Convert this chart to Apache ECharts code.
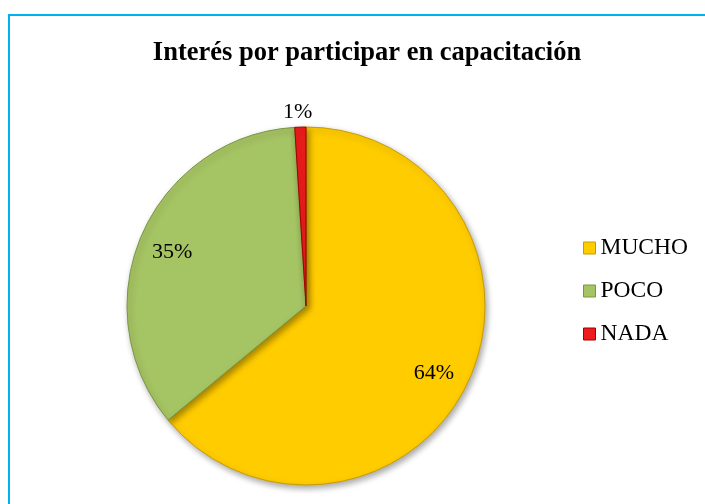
<!DOCTYPE html>
<html>
<head>
<meta charset="utf-8">
<script src="https://cdn.jsdelivr.net/npm/echarts@6/dist/echarts.min.js"></script>
<style>
  html, body { margin: 0; padding: 0; background: #fff; }
  #chart { position: absolute; left: 0; top: 0; width: 705px; height: 504px; }
  /* marco azul del gráfico (solo arriba e izquierda) */
  #frame { position: absolute; left: 8px; top: 14px; width: 697px; height: 490px;
           border-top: 2px solid #00b0f0; border-left: 2px solid #00b0f0; box-sizing: border-box; }
</style>
</head>
<body>
<div id="frame"></div>
<div id="chart"></div>
<script>
const categories = ['MUCHO', 'POCO', 'NADA'];
const values = [64, 35, 1];
const colors = ['#ffcc00', '#a5c463', '#ee1c1c'];
const borders = ['#c89b00', '#7a9640', '#a00000'];

const font = 'Liberation Serif, Times New Roman, serif';
const center = [306, 306];

const chart = echarts.init(document.getElementById('chart'));

// datos del pie principal
const pieData = categories.map((name, i) => ({
  name: name,
  value: values[i],
  itemStyle: { color: colors[i], borderColor: borders[i] },
  // solo NADA lleva la etiqueta afuera
  label: { show: i === 2, offset: [17, -13] }
}));

// capa transparente solo para colocar las etiquetas interiores más cerca del borde
const labelOffsets = [[-5, 5], [1, 5], [0, 0]];
const labelData = categories.map((name, i) => ({
  name: name,
  value: values[i],
  label: { show: i !== 2, offset: labelOffsets[i] }
}));

chart.setOption({
  animation: false,
  title: {
    text: 'Interés por participar en capacitación',
    left: 362,
    top: 35,
    textAlign: 'center',
    textStyle: { fontFamily: font, fontSize: 26.5, fontWeight: 'bold', color: '#000' }
  },
  legend: {
    orient: 'vertical',
    left: 578,
    top: 231,
    itemWidth: 12,
    itemHeight: 12,
    itemGap: 19,
    icon: 'rect',
    data: categories,
    textStyle: { fontFamily: font, fontSize: 23.5, color: '#000' },
    itemStyle: { borderWidth: 1 }
  },
  series: [
    {
      type: 'pie',
      center: center,
      radius: 179,
      startAngle: 90,
      clockwise: true,
      data: pieData,
      itemStyle: {
        borderWidth: 1,
        shadowColor: 'rgba(0,0,0,0.35)',
        shadowBlur: 6,
        shadowOffsetX: 2,
        shadowOffsetY: 3
      },
      label: {
        position: 'outside',
        formatter: '{d}%',
        fontFamily: font,
        fontSize: 22,
        color: '#000'
      },
      labelLine: { show: false, length: 2, length2: 0 },
      emphasis: { disabled: true }
    },
    {
      type: 'pie',
      center: center,
      radius: [108, 180],
      startAngle: 90,
      clockwise: true,
      silent: true,
      data: labelData,
      itemStyle: { color: 'rgba(0,0,0,0)' },
      label: {
        position: 'inside',
        formatter: '{d}%',
        fontFamily: font,
        fontSize: 22,
        color: '#000'
      },
      labelLine: { show: false },
      emphasis: { disabled: true }
    }
  ]
});
</script>
</body>
</html>
